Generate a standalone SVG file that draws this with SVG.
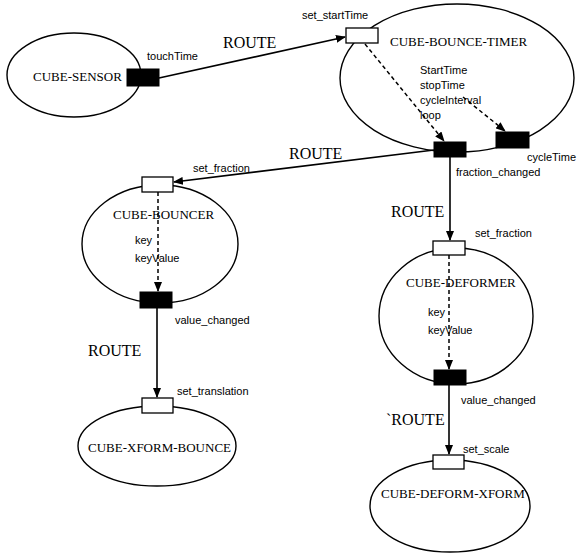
<svg xmlns="http://www.w3.org/2000/svg" width="580" height="555" viewBox="0 0 580 555">
<style>
.node{fill:none;stroke:#000;stroke-width:1.4}
.in{fill:#fff;stroke:#000;stroke-width:1.3}
.out{fill:#000;stroke:#000;stroke-width:1}
.name{font-family:"Liberation Serif",serif;font-size:13px;fill:#000}
.route{font-family:"Liberation Serif",serif;font-size:16px;fill:#000}
.lbl{font-family:"Liberation Sans",sans-serif;font-size:11px;fill:#000}
.edge{stroke:#000;stroke-width:1.6;fill:none}
.dash{stroke:#000;stroke-width:1.5;fill:none;stroke-dasharray:4 3}
</style>
<defs>
<marker id="ah" markerWidth="10" markerHeight="8" refX="9" refY="4" orient="auto" markerUnits="userSpaceOnUse">
<path d="M0,0 L10,4 L0,8 Z" fill="#000"/>
</marker>
</defs>
<rect width="580" height="555" fill="#fff"/>
<g id="connectors">
<line class="edge" x1="159" y1="78" x2="345" y2="37" marker-end="url(#ah)"/>
<line class="edge" x1="434" y1="150" x2="174" y2="182" marker-end="url(#ah)"/>
<line class="edge" x1="450" y1="157" x2="450" y2="240" marker-end="url(#ah)"/>
<line class="edge" x1="157" y1="308" x2="157" y2="397" marker-end="url(#ah)"/>
<line class="edge" x1="449" y1="385" x2="449" y2="454" marker-end="url(#ah)"/>
<line class="dash" x1="365" y1="44" x2="444" y2="141" marker-end="url(#ah)"/>
<line class="dash" x1="463" y1="97" x2="505" y2="131" marker-end="url(#ah)"/>
<line class="dash" x1="158" y1="192" x2="158" y2="291" marker-end="url(#ah)"/>
<line class="dash" x1="449" y1="255" x2="449" y2="369" marker-end="url(#ah)"/>
<text class="route" x="223" y="48">ROUTE</text>
<text class="route" x="289" y="159">ROUTE</text>
<text class="route" x="391" y="217">ROUTE</text>
<text class="route" x="88" y="356">ROUTE</text>
<text class="route" x="386" y="425">`ROUTE</text>
</g>
<g id="cube-sensor">
<ellipse class="node" cx="74" cy="75" rx="67" ry="42"/>
<text class="name" x="33" y="81">CUBE-SENSOR</text>
<rect class="out" x="127" y="69" width="32" height="17"/>
<text class="lbl" x="147" y="60">touchTime</text>
</g>
<g id="cube-bounce-timer">
<ellipse class="node" cx="457" cy="78" rx="117" ry="74"/>
<text class="name" x="390" y="46">CUBE-BOUNCE-TIMER</text>
<text class="lbl" x="420" y="74">StartTime</text>
<text class="lbl" x="420" y="89">stopTime</text>
<text class="lbl" x="420" y="104">cycleInterval</text>
<text class="lbl" x="420" y="119">loop</text>
<rect class="in" x="346" y="28" width="32" height="15"/>
<text class="lbl" x="302" y="19">set_startTime</text>
<rect class="out" x="434" y="142" width="32" height="15"/>
<text class="lbl" x="456" y="176">fraction_changed</text>
<rect class="out" x="496" y="132" width="33" height="16"/>
<text class="lbl" x="527" y="161">cycleTime</text>
</g>
<g id="cube-bouncer">
<ellipse class="node" cx="160" cy="244" rx="78" ry="59"/>
<text class="name" x="113" y="219">CUBE-BOUNCER</text>
<text class="lbl" x="135" y="244">key</text>
<text class="lbl" x="135" y="262">keyValue</text>
<rect class="in" x="142" y="177" width="31" height="15"/>
<text class="lbl" x="193" y="172">set_fraction</text>
<rect class="out" x="140" y="292" width="32" height="16"/>
<text class="lbl" x="175" y="324">value_changed</text>
</g>
<g id="cube-deformer">
<ellipse class="node" cx="456" cy="316" rx="77" ry="68"/>
<text class="name" x="406" y="287">CUBE-DEFORMER</text>
<text class="lbl" x="428" y="316">key</text>
<text class="lbl" x="428" y="334">keyValue</text>
<rect class="in" x="433" y="241" width="32" height="14"/>
<text class="lbl" x="475" y="237">set_fraction</text>
<rect class="out" x="434" y="370" width="32" height="15"/>
<text class="lbl" x="461" y="404">value_changed</text>
</g>
<g id="cube-xform-bounce">
<ellipse class="node" cx="157" cy="446" rx="79" ry="40"/>
<text class="name" x="88" y="452">CUBE-XFORM-BOUNCE</text>
<rect class="in" x="142" y="398" width="31" height="15"/>
<text class="lbl" x="177" y="395">set_translation</text>
</g>
<g id="cube-deform-xform">
<ellipse class="node" cx="450" cy="506" rx="80" ry="46"/>
<text class="name" x="381" y="498">CUBE-DEFORM-XFORM</text>
<rect class="in" x="433" y="455" width="31" height="14"/>
<text class="lbl" x="463" y="453">set_scale</text>
</g>
</svg>
